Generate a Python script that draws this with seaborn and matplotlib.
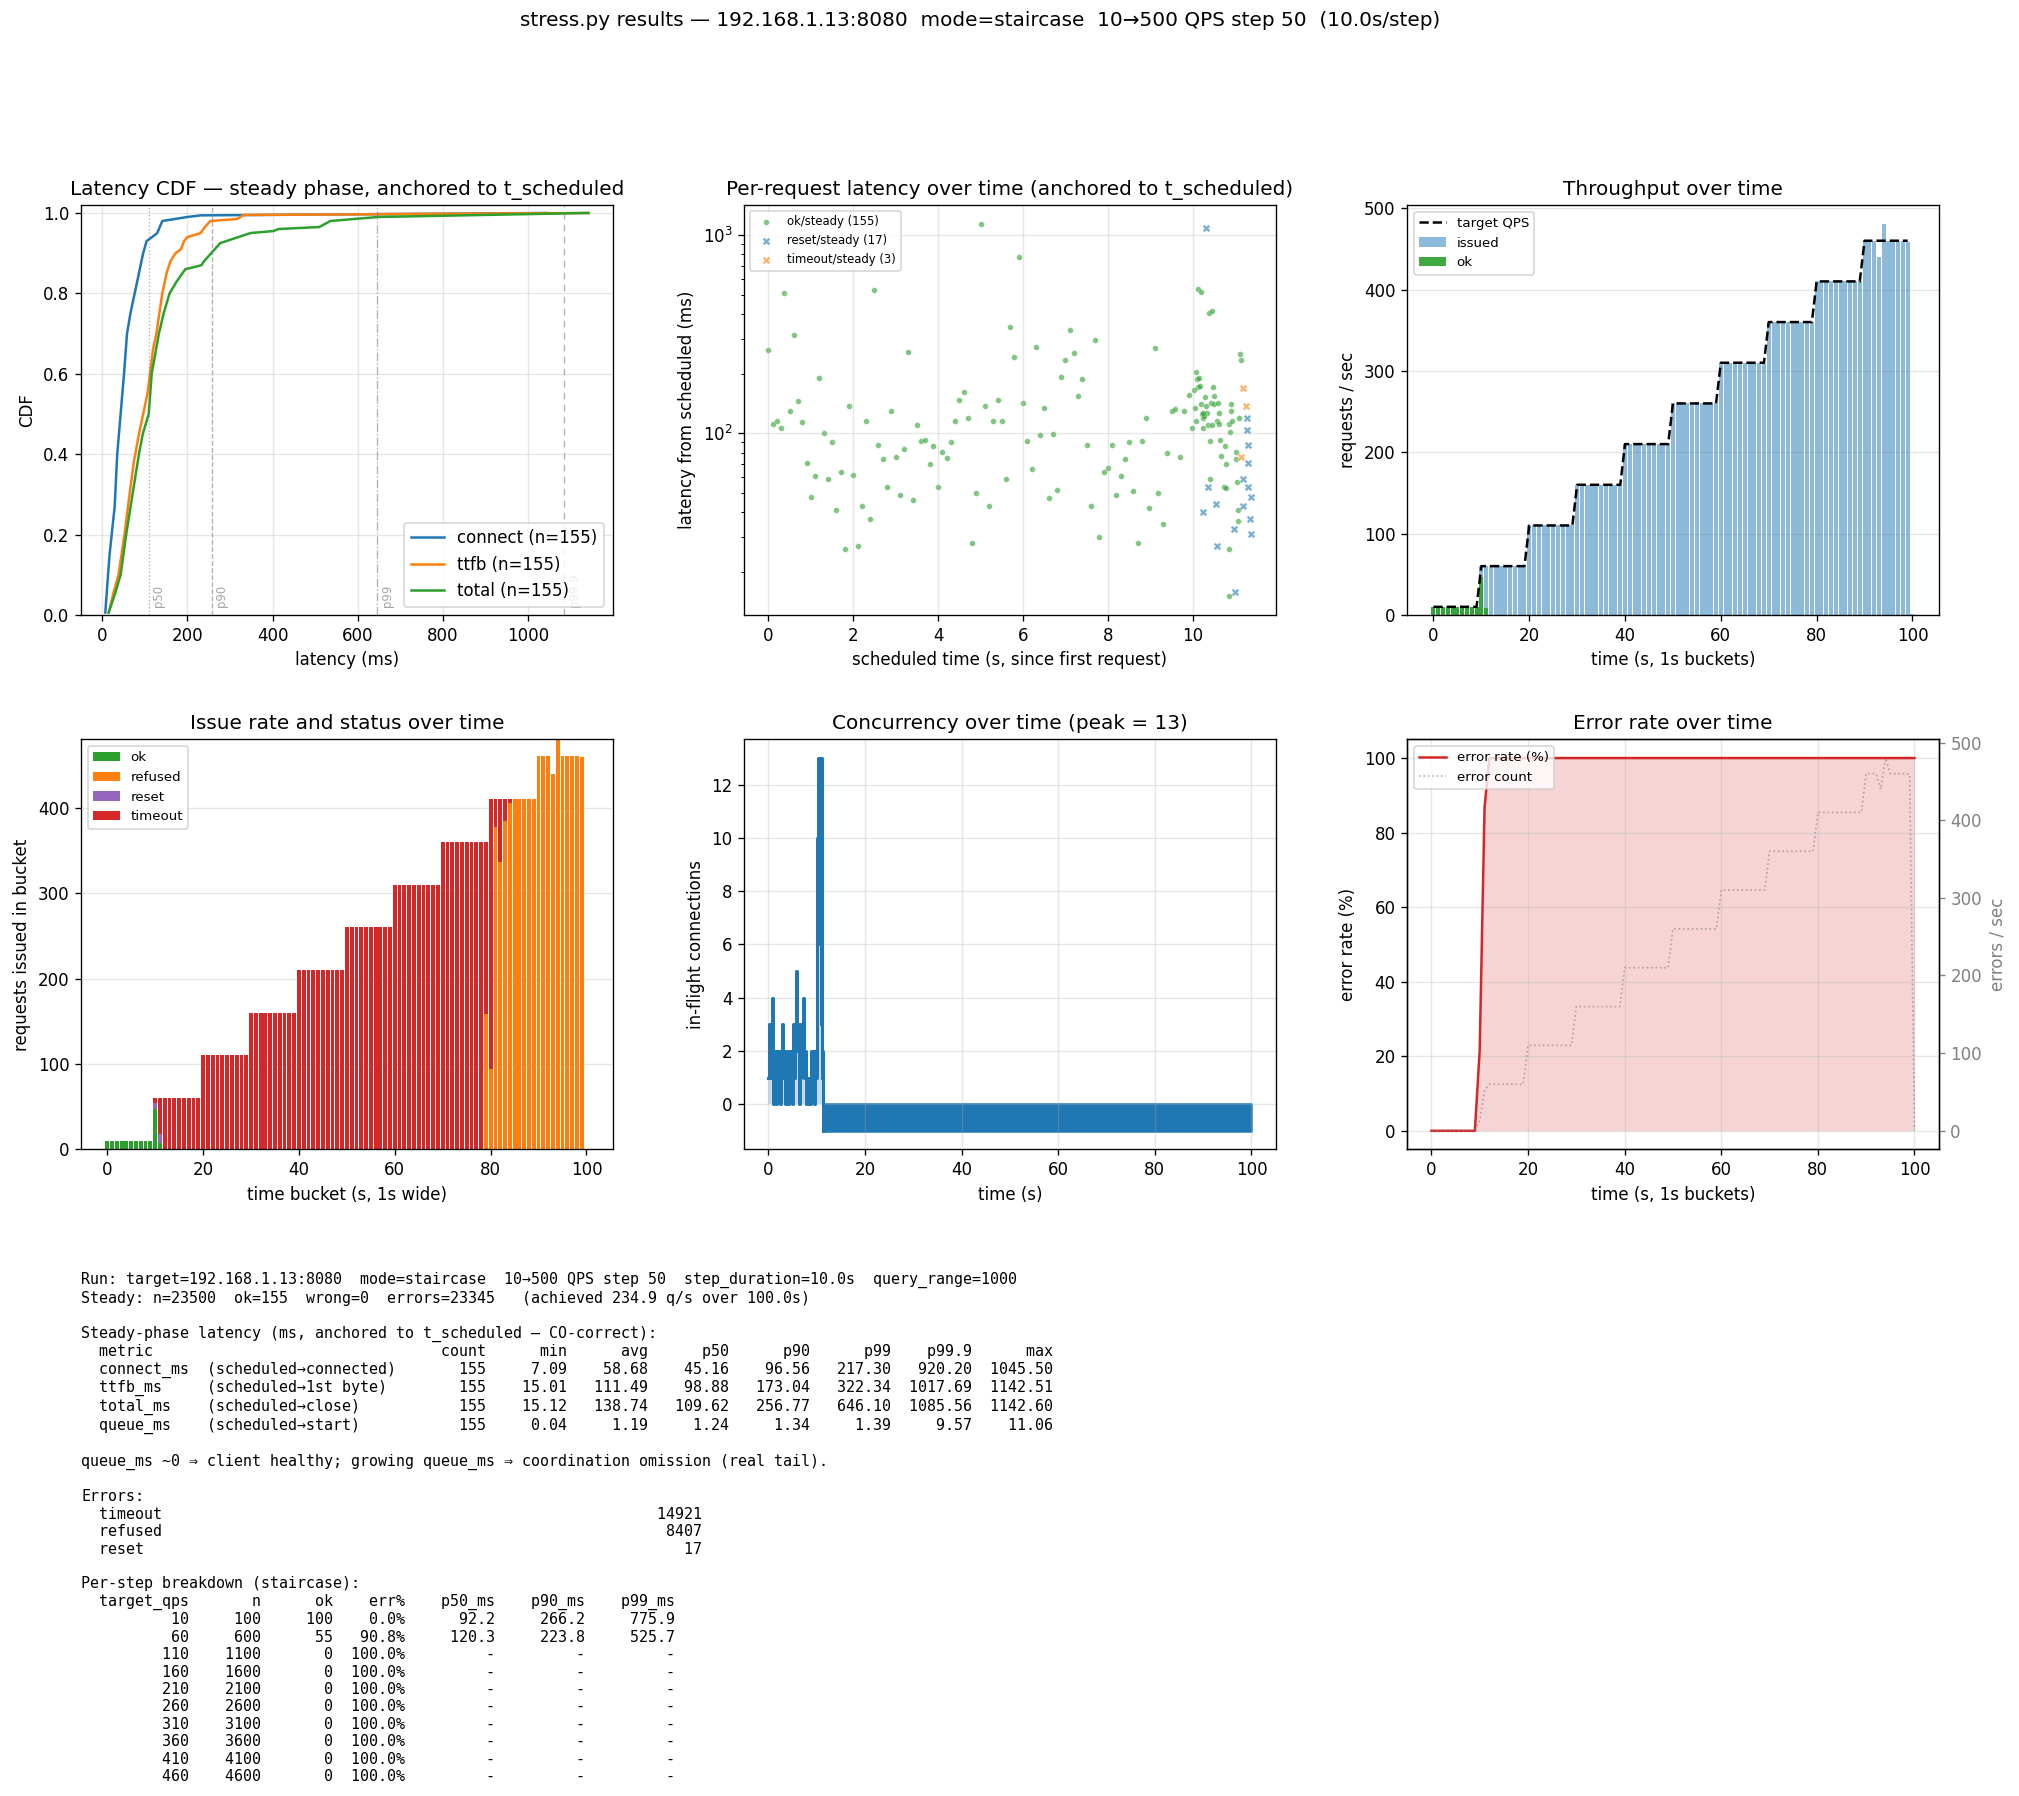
import numpy as np
import pandas as pd
import matplotlib
matplotlib.use('Agg')
import matplotlib.pyplot as plt
import seaborn as sns

# ---- run summary ----
suptitle = "stress.py results \u2014 192.168.1.13:8080  mode=staircase  10\u2192500 QPS step 50  (10.0s/step)"

# ---- latency CDF (latency ms vs cumulative fraction) ----
connect_ms = [7, 12, 17, 22, 29, 35, 43, 51, 58, 66, 76, 86, 96, 104, 117, 129, 141, 200, 231, 1045.5]
connect_cdf = [0.006, 0.08, 0.15, 0.2, 0.27, 0.4, 0.5, 0.6, 0.7, 0.75, 0.8, 0.85, 0.9, 0.93, 0.94,
               0.95, 0.98, 0.99, 0.994, 1.0]
ttfb_ms = [15, 25, 38, 52, 64, 74, 86, 96, 106, 112, 119, 127, 134, 141, 151, 160, 172, 185, 192,
           200, 231, 241, 254, 317, 332, 1142.5]
ttfb_cdf = [0.006, 0.05, 0.1, 0.2, 0.3, 0.38, 0.45, 0.5, 0.55, 0.6, 0.66, 0.7, 0.75, 0.8, 0.85,
            0.88, 0.9, 0.91, 0.93, 0.94, 0.95, 0.965, 0.98, 0.985, 0.995, 1.0]
total_ms = [15, 29, 43, 56, 71, 86, 95, 109, 116, 133, 144, 158, 175, 195, 233, 239, 256, 277, 348,
            402, 414, 510, 536, 648, 1142.6]
total_cdf = [0.006, 0.05, 0.1, 0.2, 0.3, 0.4, 0.45, 0.5, 0.6, 0.7, 0.75, 0.8, 0.83, 0.86, 0.87,
             0.88, 0.9, 0.925, 0.95, 0.955, 0.96, 0.965, 0.98, 0.99, 1.0]

# ---- steady-phase latency table ----
metric_names = ['connect_ms', 'ttfb_ms', 'total_ms', 'queue_ms']
metric_desc = ['(scheduled\u2192connected)', '(scheduled\u21921st byte)', '(scheduled\u2192close)',
               '(scheduled\u2192start)']
metric_count = [155, 155, 155, 155]
metric_min = [7.09, 15.01, 15.12, 0.04]
metric_avg = [58.68, 111.49, 138.74, 1.19]
metric_p50 = [45.16, 98.88, 109.62, 1.24]
metric_p90 = [96.56, 173.04, 256.77, 1.34]
metric_p99 = [217.30, 322.34, 646.10, 1.39]
metric_p999 = [920.20, 1017.69, 1085.56, 9.57]
metric_max = [1045.50, 1142.51, 1142.60, 11.06]

# ---- per-request latency scatter (scheduled time s, total latency ms) ----
ok_t = [0.00, 0.10, 0.20, 0.29, 0.38, 0.50, 0.60, 0.69, 0.79, 0.90, 1.00, 1.09, 1.19, 1.30, 1.40,
        1.49, 1.59, 1.70, 1.80, 1.89, 1.99, 2.10, 2.20, 2.29, 2.39, 2.50, 2.58,
        2.69, 2.79, 2.88, 3.00, 3.09, 3.19, 3.28, 3.40, 3.49, 3.59, 3.68, 3.80, 3.89, 3.99, 4.08,
        4.20, 4.30, 4.39, 4.48, 4.60, 4.70, 4.79, 4.89, 5.01, 5.10, 5.19, 5.29, 5.40, 5.50, 5.59,
        5.69, 5.78,
        5.90, 5.99, 6.09, 6.20, 6.30, 6.39, 6.49, 6.60, 6.70, 6.79, 6.89, 6.98, 7.10, 7.19, 7.29,
        7.38, 7.50, 7.59, 7.69, 7.78, 7.90, 7.99, 8.09, 8.18, 8.30, 8.39, 8.49, 8.58, 8.70, 8.79,
        8.89, 8.96,
        9.10, 9.19, 9.29, 9.38, 9.50, 9.59, 9.69, 9.78, 9.90, 9.99, 10.02, 10.04, 10.07, 10.07,
        10.09, 10.11, 10.11, 10.14, 10.16, 10.18, 10.18, 10.21, 10.23, 10.25,
        10.29, 10.31, 10.34, 10.27, 10.36, 10.38, 10.41, 10.43, 10.46, 10.46, 10.48, 10.50, 10.50,
        10.41, 10.57, 10.60, 10.62, 10.62, 10.64, 10.67, 10.74, 10.76, 10.79, 10.79, 10.84, 10.86,
        10.88, 10.91, 10.91, 10.93, 11.02, 11.02, 11.05, 11.07, 11.07, 11.09, 11.12, 11.14, 10.86,
        10.25]
ok_ms = [264, 111, 115, 106, 510, 130, 314, 146, 114, 71, 48, 61, 191, 101, 59,
         91, 41, 64, 26, 138, 62, 27, 43, 115, 37, 529, 87,
         74, 54, 129, 76, 49, 83, 258, 46, 110, 92, 93, 70, 86, 54, 81,
         75, 90, 115, 148, 161, 119, 28, 50, 1142, 137, 43, 115, 148, 116, 59,
         344, 243,
         773, 143, 92, 66, 273, 98, 134, 47, 99, 52, 193, 235, 332, 255, 155,
         187, 87, 43, 296, 30, 64, 67, 87, 49, 61, 74, 91, 51, 28, 92,
         120, 42,
         270, 50, 35, 80, 129, 132, 76, 130, 157, 107, 166, 134, 205, 116,
         189, 534, 172, 191, 174, 516, 141, 125, 107, 120,
         153, 137, 126, 123, 110, 404, 92, 143, 416, 110, 172, 155, 141,
         59, 115, 143, 127, 111, 93, 77, 54, 86, 70, 53, 26, 112,
         102, 141, 130, 115, 81, 74, 57, 41, 36, 119, 252, 235, 15.1,
         127]
reset_t = [10.30, 11.27, 11.27, 11.29, 11.31, 11.17, 11.31, 11.36, 11.19, 11.34, 11.38, 10.96,
           10.35, 10.54, 10.23, 10.56, 10.99]
reset_ms = [1082, 120, 104, 87, 71, 59, 54, 48, 43, 37, 31, 33, 54, 44, 40, 27, 15.9]
timeout_t = [11.19, 11.24, 11.14]
timeout_ms = [170, 137, 76]

# ---- per-second buckets 0..100 ----
bucket = list(range(101))
target_qps = [10] * 10 + [60] * 10 + [110] * 10 + [160] * 10 + [210] * 10 + [260] * 10 + \
             [310] * 10 + [360] * 10 + [410] * 10 + [460] * 10
issued = [10, 10, 10, 10, 10, 10, 10, 10, 10, 10,
          60, 60, 60, 60, 60, 60, 60, 60, 60, 60,
          110, 110, 110, 110, 110, 110, 110, 110, 110, 110,
          160, 160, 160, 160, 160, 160, 160, 160, 160, 160,
          210, 210, 210, 210, 210, 210, 210, 210, 210, 210,
          260, 260, 260, 260, 260, 260, 260, 260, 260, 260,
          310, 310, 310, 310, 310, 310, 310, 310, 310, 310,
          360, 360, 360, 360, 360, 360, 360, 360, 360, 360,
          410, 410, 410, 410, 410, 410, 410, 410, 410, 410,
          460, 460, 460, 440, 480, 460, 460, 460, 460, 459,
          1]
ok_count = [10, 10, 10, 10, 10, 10, 10, 10, 10, 10, 47, 8] + [0] * 89
reset_count = [0] * 10 + [7, 10] + [0] * 89
refused_count = [0] * 79 + [158,
                            94, 378, 337, 385, 405, 410, 410, 410, 410, 410,
                            460, 460, 460, 440, 480, 460, 460, 460, 460, 459,
                            1]

# ---- concurrency (in-flight connections, step changes) ----
conc_t = [0.0, 0.1, 0.3, 0.5, 0.7, 0.9, 1.0, 1.2, 1.4, 1.6, 1.8, 2.0, 2.2, 2.4, 2.6, 2.8, 3.0,
          3.2, 3.4, 3.6, 3.8, 4.0, 4.2, 4.4, 4.6, 4.8, 5.0, 5.2, 5.4, 5.6, 5.8, 6.0, 6.2, 6.4,
          6.6, 6.8, 7.0, 7.2, 7.4, 7.6, 7.8, 8.0, 8.2, 8.4, 8.6, 8.8, 9.0, 9.2, 9.4, 9.6, 9.8,
          10.0, 10.1, 10.2, 10.4, 10.5, 10.7, 10.9, 11.0, 11.1, 11.2, 11.25]
conc_v = [1, 3, 1, 3, 4, 2, 0, 2, 1, 0, 2, 1, 2, 0, 2, 3, 1,
          2, 0, 2, 1, 0, 2, 1, 2, 0, 2, 3, 1, 3, 5, 2, 3, 0,
          1, 3, 2, 4, 1, 2, 0, 1, 0, 1, 0, 2, 1, 2, 0, 2, 1,
          6, 10, 13, 6, 13, 8, 3, 13, 1, 2, -1]
# after ~11.25 s the counter flips between -1 and 0 continuously until t=100
flip_start, flip_end, flip_lo, flip_hi = 11.25, 100.0, -1, 0

# ---- error table / per-step breakdown ----
error_kinds = ['timeout', 'refused', 'reset']
error_totals = [14921, 8407, 17]
step_qps = [10, 60, 110, 160, 210, 260, 310, 360, 410, 460]
step_n = [100, 600, 1100, 1600, 2100, 2600, 3100, 3600, 4100, 4600]
step_ok = [100, 55, 0, 0, 0, 0, 0, 0, 0, 0]
step_err = [0.0, 90.8, 100.0, 100.0, 100.0, 100.0, 100.0, 100.0, 100.0, 100.0]
step_p50 = [92.2, 120.3]
step_p90 = [266.2, 223.8]
step_p99 = [775.9, 525.7]

# ---------------------------------------------------------------
df = pd.DataFrame({'bucket': bucket, 'issued': issued, 'ok': ok_count,
                   'refused': refused_count, 'reset': reset_count})
df['timeout'] = df['issued'] - df['ok'] - df['refused'] - df['reset']
df['errors'] = df['issued'] - df['ok']
df['err_rate'] = df['errors'] / df['issued'] * 100

blue, orange, green, red, purple = '#1f77b4', '#ff7f0e', '#2ca02c', '#d62728', '#9467bd'

fig = plt.figure(figsize=(2019 / 120, 1796 / 120), dpi=120)
W, H = 0.2632, 0.2283
lefts = [0.0402, 0.3686, 0.6970]
bottoms = [0.6576, 0.3600]
ax1 = fig.add_axes([lefts[0], bottoms[0], W, H])
ax2 = fig.add_axes([lefts[1], bottoms[0], W, H])
ax3 = fig.add_axes([lefts[2], bottoms[0], W, H])
ax4 = fig.add_axes([lefts[0], bottoms[1], W, H])
ax5 = fig.add_axes([lefts[1], bottoms[1], W, H])
ax6 = fig.add_axes([lefts[2], bottoms[1], W, H])

fig.suptitle(suptitle, x=0.4855, y=0.9885, va='center', fontsize=12)

# 1) latency CDF
for xs, ys, name in [(connect_ms, connect_cdf, 'connect'), (ttfb_ms, ttfb_cdf, 'ttfb'),
                     (total_ms, total_cdf, 'total')]:
    sns.lineplot(x=xs, y=ys, ax=ax1, estimator=None, sort=False, lw=1.5,
                 label='%s (n=%d)' % (name, metric_count[0]))
pct_vals = [metric_p50[2], metric_p90[2], metric_p99[2], metric_p999[2]]
pct_names = ['p50', 'p90', 'p99', 'p99.9']
pct_styles = [':', '--', '-.', (0, (5, 4))]
for v, nm, ls in zip(pct_vals, pct_names, pct_styles):
    ax1.axvline(v, color='gray', ls=ls, lw=0.8, alpha=0.6)
    ax1.text(v + 8, 0.02, nm, rotation=90, fontsize=7, color='gray', alpha=0.7,
             transform=ax1.get_xaxis_transform(), va='bottom', ha='left')
ax1.set_ylim(0, 1.02)
ax1.set_xlabel('latency (ms)')
ax1.set_ylabel('CDF')
ax1.set_title('Latency CDF \u2014 steady phase, anchored to t_scheduled')
ax1.grid(alpha=0.3)
ax1.legend(loc='lower right')

# 2) per-request latency scatter
sns.scatterplot(x=ok_t, y=ok_ms, ax=ax2, color=green, s=12, alpha=0.6,
                label='ok/steady (%d)' % len(ok_t))
sns.scatterplot(x=reset_t, y=reset_ms, ax=ax2, color=blue, marker='X', s=22, alpha=0.6,
                label='reset/steady (%d)' % len(reset_t))
sns.scatterplot(x=timeout_t, y=timeout_ms, ax=ax2, color=orange, marker='X', s=22, alpha=0.6,
                label='timeout/steady (%d)' % len(timeout_t))
ax2.set_yscale('log')
ax2.set_xlabel('scheduled time (s, since first request)')
ax2.set_ylabel('latency from scheduled (ms)')
ax2.set_title('Per-request latency over time (anchored to t_scheduled)')
ax2.grid(alpha=0.3)
ax2.legend(loc='upper left', fontsize=7)

# 3) throughput
ax3.plot(df['bucket'][:100], target_qps, color='black', ls='--', lw=1.5, label='target QPS')
ax3.bar(df['bucket'], df['issued'], width=0.85, color=blue, alpha=0.5, label='issued')
ax3.bar(df['bucket'], df['ok'], width=0.85, color=green, alpha=0.9, label='ok')
ax3.set_axisbelow(True)
ax3.grid(axis='y', alpha=0.3)
ax3.set_xlabel('time (s, 1s buckets)')
ax3.set_ylabel('requests / sec')
ax3.set_title('Throughput over time')
ax3.legend(loc='upper left', fontsize=8)

# 4) issue rate and status (stacked)
bottom = np.zeros(len(df))
for col, c in [('ok', green), ('refused', orange), ('reset', purple), ('timeout', red)]:
    ax4.bar(df['bucket'], df[col], bottom=bottom, width=0.8, color=c, label=col)
    bottom = bottom + df[col].values
ax4.set_axisbelow(True)
ax4.grid(axis='y', alpha=0.3)
ax4.set_xlabel('time bucket (s, 1s wide)')
ax4.set_ylabel('requests issued in bucket')
ax4.set_title('Issue rate and status over time')
ax4.legend(loc='upper left', fontsize=8)

# 5) concurrency
ax5.fill_between(conc_t, conc_v, 0, step='post', color=blue, alpha=0.25, lw=0)
sns.lineplot(x=conc_t, y=conc_v, ax=ax5, estimator=None, sort=False, color=blue, lw=1.8,
             drawstyle='steps-post')
ax5.fill_between([flip_start, flip_end], [flip_lo, flip_lo], [flip_hi, flip_hi], color=blue,
                 lw=1.5, edgecolor=blue)
ax5.set_xlabel('time (s)')
ax5.set_ylabel('in-flight connections')
ax5.set_title('Concurrency over time (peak = %d)' % max(conc_v))
ax5.grid(alpha=0.3)

# 6) error rate + error count
ax6.fill_between(df['bucket'], 0, df['err_rate'], color=red, alpha=0.2, lw=0)
l1, = ax6.plot(df['bucket'], df['err_rate'], color=red, lw=1.5, label='error rate (%)')
ax6b = ax6.twinx()
l2, = ax6b.plot(df['bucket'], df['errors'], color='gray', ls=':', lw=1, alpha=0.6,
                label='error count')
ax6b.set_ylabel('errors / sec', color='gray')
ax6b.tick_params(axis='y', colors='gray')
ax6.set_xlabel('time (s, 1s buckets)')
ax6.set_ylabel('error rate (%)')
ax6.set_title('Error rate over time')
ax6.grid(alpha=0.3)
ax6.legend([l1, l2], [l1.get_label(), l2.get_label()], loc='upper left', fontsize=8)

# ---- text summary ----
lines = []
lines.append('Run: target=192.168.1.13:8080  mode=staircase  10\u2192500 QPS step 50  '
             'step_duration=10.0s  query_range=1000')
lines.append('Steady: n=23500  ok=155  wrong=0  errors=23345   (achieved 234.9 q/s over 100.0s)')
lines.append('')
lines.append('Steady-phase latency (ms, anchored to t_scheduled \u2014 CO-correct):')
hdr = ['min', 'avg', 'p50', 'p90', 'p99', 'p99.9', 'max']
lines.append('  ' + '%-37s' % 'metric' + '%6s' % 'count' + ''.join('%9s' % h for h in hdr))
for i in range(len(metric_names)):
    vals = [metric_min[i], metric_avg[i], metric_p50[i], metric_p90[i], metric_p99[i],
            metric_p999[i], metric_max[i]]
    lines.append('  ' + '%-12s' % metric_names[i] + '%-25s' % metric_desc[i]
                 + '%6d' % metric_count[i] + ''.join('%9.2f' % v for v in vals))
lines.append('')
lines.append('queue_ms ~0 \u21d2 client healthy; growing queue_ms \u21d2 coordination omission (real tail).')
lines.append('')
lines.append('Errors:')
for k, v in zip(error_kinds, error_totals):
    lines.append('  ' + '%-20s' % k + '%47d' % v)
lines.append('')
lines.append('Per-step breakdown (staircase):')
lines.append('  ' + '%10s%8s%8s%8s%10s%10s%10s' % ('target_qps', 'n', 'ok', 'err%', 'p50_ms',
                                                  'p90_ms', 'p99_ms'))
for i in range(len(step_qps)):
    if i < len(step_p50):
        tail = '%10.1f%10.1f%10.1f' % (step_p50[i], step_p90[i], step_p99[i])
    else:
        tail = '%10s%10s%10s' % ('-', '-', '-')
    lines.append('  ' + '%10d%8d%8d%7.1f%%' % (step_qps[i], step_n[i], step_ok[i], step_err[i])
                 + tail)
fig.text(0.0402, 0.2917, '\n'.join(lines), family=['DejaVu Sans Mono', 'DejaVu Sans'],
         fontsize=9, va='top', ha='left')

fig.savefig('out.png', dpi=120)
